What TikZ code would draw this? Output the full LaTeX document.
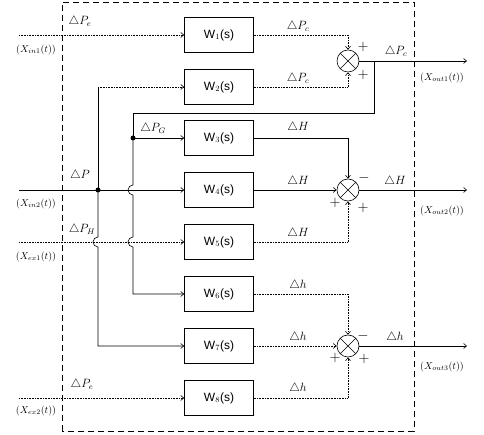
\documentclass[tikz,border=0pt]{standalone}
\usepackage{fontspec}
\setmainfont{Liberation Sans}
\usepackage{tikz}
\usetikzlibrary{arrows.meta,positioning,calc}

\begin{document}
\begin{tikzpicture}[x=1pt, y=1pt, every node/.style={font=\small},
  block/.style={draw, line width=0.6pt, minimum width=69pt, minimum height=35pt, inner sep=0pt, font=\large},
  summer/.style={draw, line width=0.6pt, circle, minimum size=22pt, inner sep=0pt,
    path picture={\draw[line width=0.6pt] (path picture bounding box.north west) -- (path picture bounding box.south east)
      (path picture bounding box.north east) -- (path picture bounding box.south west);}},
  sig/.style={line width=0.6pt},
  sigdot/.style={line width=0.6pt, densely dotted},
  arr/.style={-{Straight Barb[length=3pt,width=5pt]}},
  lbl/.style={font=\large},
  xlbl/.style={font=\normalsize},
  sgn/.style={font=\Large, inner sep=0pt}]
\useasboundingbox (0,0) rectangle (484,435);
\draw[line width=0.6pt, dash pattern=on 6pt off 4pt] (62,4) rectangle (414,433);
% blocks
\node[block] (W1) at (219,400) {W$_1$(s)};
\node[block] (W2) at (219,348) {W$_2$(s)};
\node[block] (W3) at (219,297) {W$_3$(s)};
\node[block] (W4) at (219,245) {W$_4$(s)};
\node[block] (W5) at (219,193) {W$_5$(s)};
\node[block] (W6) at (219,141) {W$_6$(s)};
\node[block] (W7) at (219,89) {W$_7$(s)};
\node[block] (W8) at (219,37) {W$_8$(s)};
% summing points
\node[summer] (sum1) at (348,374) {};
\node[summer] (sum2) at (348,245) {};
\node[summer] (sum3) at (348,89) {};
% free ends
\coordinate (in1) at (19,400);
\coordinate (in2) at (19,245);
\coordinate (in3) at (19,193);
\coordinate (in4) at (19,37);
\coordinate (out1) at (467,374);
\coordinate (out2) at (467,245);
\coordinate (out3) at (467,89);
\coordinate (fb) at (374,374);
\coordinate (fbc) at (133,322);
\coordinate (tapG) at (133,297);
\coordinate (tapP) at (98,245);
\coordinate (topP) at (98,348);
\fill (tapG) circle (2.5);
\fill (tapP) circle (2.5);
% inputs
\draw[sigdot, arr] (in1) -- (W1.west);
\draw[sig, arr] (in2) -- (W4.west);
\draw[sigdot, arr] (in3) -- (W5.west);
\draw[sigdot, arr] (in4) -- (W8.west);
% branch of dP
\draw[sigdot, arr] (topP) -- (W2.west);
\draw[sig] (topP) -- (tapP);
\draw[sig, arr] (tapP) -- (98,198) arc[start angle=90, end angle=270, radius=5] -- (98,89) -- (W7.west);
% feedback of dPc
\draw[sig] (fb) |- (fbc) -- (tapG);
\draw[sig, arr] (tapG) -- (W3.west);
\draw[sig, arr] (tapG) -- (133,250) arc[start angle=90, end angle=270, radius=5]
  -- (133,198) arc[start angle=90, end angle=270, radius=5] -- (133,141) -- (W6.west);
% into the summing points
\draw[sigdot, arr] (W1.east) -| (sum1.north);
\draw[sigdot, arr] (W2.east) -| (sum1.south);
\draw[sig, arr] (W3.east) -| (sum2.north);
\draw[sig, arr] (W4.east) -- (sum2.west);
\draw[sigdot, arr] (W5.east) -| (sum2.south);
\draw[sigdot, arr] (W6.east) -| (sum3.north);
\draw[sigdot, arr] (W7.east) -- (sum3.west);
\draw[sigdot, arr] (W8.east) -| (sum3.south);
% outputs
\draw[sig, arr] (sum1.east) -- (out1);
\draw[sig, arr] (sum2.east) -- (out2);
\draw[sig, arr] (sum3.east) -- (out3);
% signal labels
\node[lbl] at (80,413) {$\triangle P_e$};
\node[lbl] at (80,259) {$\triangle P$};
\node[lbl] at (82,205) {$\triangle P_H$};
\node[lbl] at (82,50) {$\triangle P_e$};
\node[lbl] at (153,306) {$\triangle P_G$};
\node[lbl] at (298,408) {$\triangle P_c$};
\node[lbl] at (298,356) {$\triangle P_c$};
\node[lbl] at (298,307) {$\triangle H$};
\node[lbl] at (298,253) {$\triangle H$};
\node[lbl] at (298,201) {$\triangle H$};
\node[lbl] at (298,149) {$\triangle h$};
\node[lbl] at (298,97) {$\triangle h$};
\node[lbl] at (298,46) {$\triangle h$};
\node[lbl] at (396,383) {$\triangle P_c$};
\node[lbl] at (395,253) {$\triangle H$};
\node[lbl] at (395,97) {$\triangle h$};
% in/out names
\node[xlbl] at (36,385) {$(X_{in1}(t))$};
\node[xlbl] at (36,231) {$(X_{in2}(t))$};
\node[xlbl] at (36,178) {$(X_{ex1}(t))$};
\node[xlbl] at (36,24) {$(X_{ex2}(t))$};
\node[xlbl] at (442,357) {$(X_{out1}(t))$};
\node[xlbl] at (442,224) {$(X_{out2}(t))$};
\node[xlbl] at (442,68) {$(X_{out3}(t))$};
% signs
\node[sgn] at (363,388) {$+$};
\node[sgn] at (363,360) {$+$};
\node[sgn] at (364,257) {$-$};
\node[sgn] at (335,232) {$+$};
\node[sgn] at (363,227) {$+$};
\node[sgn] at (363,99) {$-$};
\node[sgn] at (335,77) {$+$};
\node[sgn] at (364,76) {$+$};
\end{tikzpicture}
\end{document}
